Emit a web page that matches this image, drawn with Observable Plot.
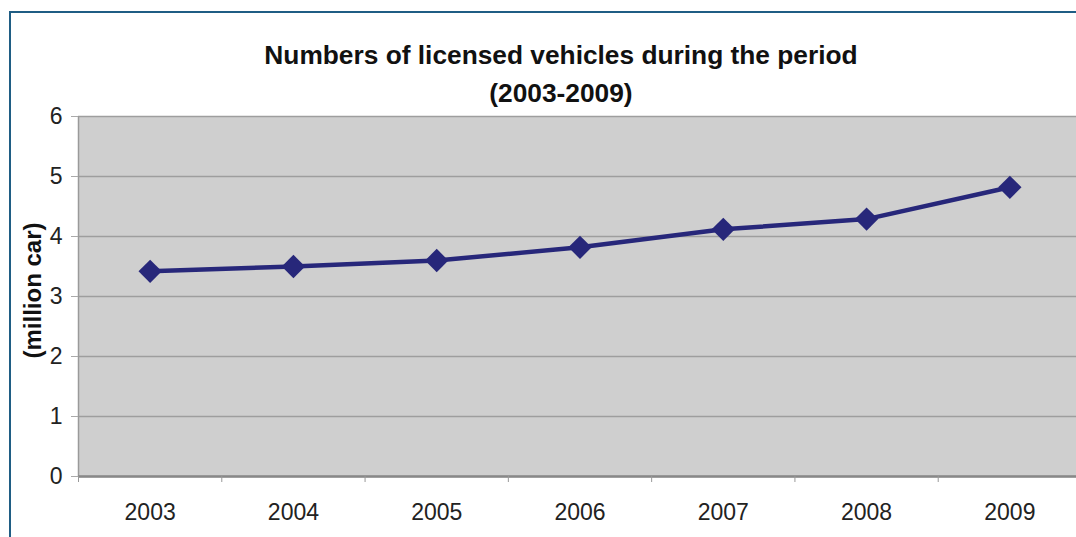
<!DOCTYPE html>
<html>
<head>
<meta charset="utf-8">
<script src="https://cdn.jsdelivr.net/npm/d3@7"></script>
<script src="https://cdn.jsdelivr.net/npm/@observablehq/plot@0.6"></script>
<style>
  html, body { margin: 0; padding: 0; background: #fff; overflow: hidden; }
  #wrap { position: relative; width: 1076px; height: 537px; overflow: hidden; }
  #border { position: absolute; left: 9px; top: 11px; width: 3000px; height: 3000px;
            border-left: 2px solid #1f5d84; border-top: 2px solid #1f5d84; box-sizing: border-box; }
  #title { position: absolute; left: 161px; width: 800px; top: 36px; text-align: center;
           font-family: "Liberation Sans", Arial, sans-serif; font-weight: bold; font-size: 26.3px;
           line-height: 38px; color: #111; }
  #chart { position: absolute; left: 0; top: 0; }
</style>
</head>
<body>
<div id="wrap">
  <div id="border"></div>
  <div id="chart"></div>
  <div id="title"></div>
</div>
<script>
const titleLines = ["Numbers of licensed vehicles during the period", "(2003-2009)"];
const yLabel = "(million car)";
const years = [2003, 2004, 2005, 2006, 2007, 2008, 2009];
const vehicles = [3.42, 3.50, 3.60, 3.82, 4.12, 4.29, 4.82];
const yTicks = [0, 1, 2, 3, 4, 5, 6];

const data = years.map((year, i) => ({year, value: vehicles[i]}));
const boundaries = [years[0] - 0.5, ...years.slice(0, -1).map(y => y + 0.5)];

document.getElementById("title").innerHTML = titleLines.join("<br>");

const chart = Plot.plot({
  width: 1076,
  height: 537,
  marginLeft: 78,
  marginRight: 0,
  marginTop: 116,
  marginBottom: 61,
  style: {fontFamily: "'Liberation Sans', Arial, sans-serif", background: "transparent", overflow: "visible", color: "#222"},
  x: {type: "linear", domain: [years[0] - 0.5, years[years.length - 1] + 0.5], range: [78, 1081]},
  y: {domain: [0, 6], range: [476, 116]},
  marks: [
    Plot.frame({fill: "#cfcfcf", stroke: null}),
    Plot.gridY(yTicks, {stroke: "#9e9e9e", strokeOpacity: 1, strokeWidth: 1.5}),
    Plot.ruleX([years[0] - 0.5], {stroke: "#9a9a9a", strokeWidth: 1.5}),
    Plot.ruleY([0], {stroke: "#888", strokeWidth: 2.5}),
    Plot.axisX(boundaries, {tickSize: 6, tickFormat: () => "", stroke: "#999", label: null}),
    Plot.axisX(years, {tickSize: 0, tickPadding: 27, tickFormat: d => String(d), fontSize: 23, fill: "#222", label: null}),
    Plot.axisY(yTicks, {tickSize: 7, tickPadding: 9, tickFormat: d => String(d), fontSize: 23, stroke: "#aaa", fill: "#222", label: null}),
    Plot.line(data, {x: "year", y: "value", stroke: "#27277a", strokeWidth: 4.5}),
    Plot.dot(data, {x: "year", y: "value", symbol: "diamond2", r: 10.5, fill: "#27277a", stroke: "none"}),
    Plot.text([yLabel], {frameAnchor: "left", textAnchor: "middle", rotate: -90, dx: -45, dy: -6,
                         fontSize: 24, fontWeight: "bold", fill: "#111"})
  ]
});
document.getElementById("chart").appendChild(chart);
</script>
</body>
</html>
